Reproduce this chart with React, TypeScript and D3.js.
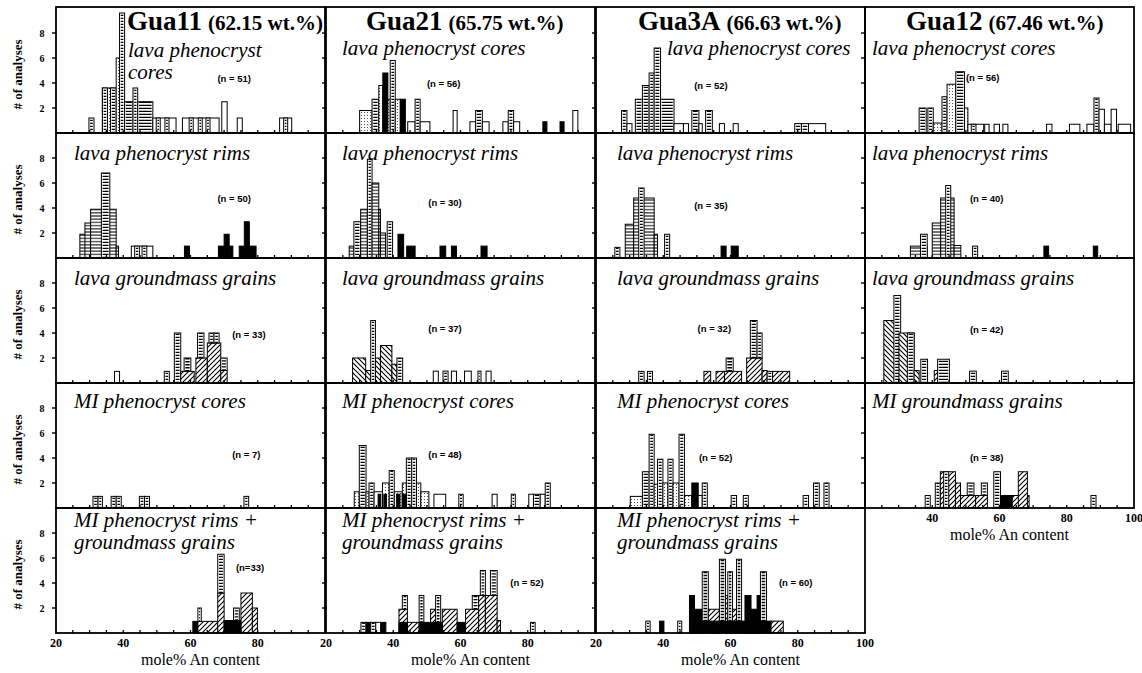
import React from 'react';
import * as d3 from 'd3';

// [kind, An from, An to, count top, count base]
type Bar = [string, number, number, number, number?];

// ---- row 1: lava phenocryst cores ----
const gua11Cores: Bar[] = [
  ['ladder', 29.8, 31.3, 1.2],
  ['stip', 33.8, 37.9, 3.6], ['ladder', 33.8, 35.3, 3.6], ['ladder', 36.2, 37.9, 3.6],
  ['stip', 37.9, 38.9, 6.0], ['ladder', 38.9, 40.4, 9.6],
  ['ladder', 40.4, 42.9, 2.5], ['ladder', 42.9, 44.3, 3.6], ['ladder', 44.3, 48.8, 2.5],
  ['open', 48.8, 55.7, 1.2], ['ladder', 49.8, 51.0, 1.2], ['ladder', 52.4, 53.6, 1.2],
  ['open', 57.6, 68.5, 1.2], ['ladder', 59.6, 60.8, 1.2], ['ladder', 62.3, 63.5, 1.2], ['ladder', 64.6, 65.8, 1.2],
  ['open', 69.3, 70.9, 2.5], ['open', 73.9, 75.4, 1.2],
  ['open', 86.5, 90.1, 1.2], ['ladder', 87.7, 88.9, 1.2],
];
const gua21Cores: Bar[] = [
  ['stip', 30.0, 33.7, 1.8], ['ladder', 33.7, 35.7, 2.7], ['stip', 35.7, 36.9, 3.8],
  ['solid', 36.9, 38.4, 4.8], ['stip', 38.4, 39.1, 2.7], ['ladder', 39.1, 40.6, 5.8],
  ['stip', 40.6, 42.1, 2.7], ['solid', 42.1, 43.6, 2.7], ['open', 44.3, 46.5, 0.9],
  ['ladder', 46.5, 48.0, 2.7], ['open', 48.0, 50.9, 0.9], ['open', 57.8, 59.0, 1.8],
  ['open', 62.8, 64.5, 0.9], ['ladder', 64.5, 66.5, 1.8], ['open', 66.5, 68.5, 0.9],
  ['open', 72.6, 74.2, 0.9], ['ladder', 74.2, 75.8, 1.8], ['open', 75.8, 77.6, 0.9],
  ['solid', 84.5, 85.7, 0.9], ['solid', 89.6, 90.8, 0.9], ['open', 93.4, 94.9, 1.8],
];
const gua3aCores: Bar[] = [
  ['ladder', 27.6, 29.2, 1.8], ['open', 29.2, 30.7, 0.75], ['ladder', 31.7, 33.8, 2.7],
  ['ladder', 33.8, 35.8, 3.8], ['ladder', 35.8, 37.3, 4.8], ['ladder', 37.3, 39.2, 6.8],
  ['ladder', 39.2, 43.2, 2.7], ['open', 43.2, 46.0, 0.75], ['open', 46.0, 47.5, 0.75],
  ['ladder', 48.5, 50.6, 1.8], ['open', 50.6, 51.6, 0.75], ['ladder', 52.6, 54.6, 1.8],
  ['open', 56.7, 58.2, 0.75], ['open', 60.8, 62.3, 0.75], ['ladder', 79.1, 81.1, 0.75],
  ['ladder', 81.1, 83.2, 0.75], ['open', 83.2, 88.3, 0.75],
];
const gua12Cores: Bar[] = [
  ['ladder', 36.1, 38.2, 2.0], ['ladder', 38.7, 40.3, 2.0], ['stip', 40.3, 42.9, 0.8],
  ['ladder', 42.9, 44.4, 2.9], ['stip', 44.4, 47.0, 3.9], ['ladder', 47.0, 49.6, 4.9],
  ['stip', 49.6, 50.6, 2.0], ['open', 50.6, 55.3, 0.7], ['ladder', 51.6, 53.0, 0.7],
  ['open', 55.6, 56.9, 0.7], ['open', 58.4, 60.0, 0.7], ['open', 61.0, 62.5, 0.7],
  ['open', 74.0, 75.6, 0.7], ['open', 80.8, 83.9, 0.7], ['open', 86.0, 88.1, 0.7],
  ['ladder', 88.1, 89.6, 2.8], ['open', 89.6, 91.2, 1.9], ['open', 91.2, 93.2, 0.7],
  ['open', 93.2, 94.8, 1.9], ['open', 95.3, 99.0, 0.7],
];

// ---- row 2: lava phenocryst rims ----
const gua11Rims: Bar[] = [
  ['hlines', 27.1, 30.3, 1.9], ['hlines', 28.6, 30.3, 2.8], ['hlines', 30.3, 37.9, 3.9],
  ['ladder', 33.5, 36.0, 6.8], ['hlines', 37.9, 38.6, 0.95],
  ['open', 42.4, 48.8, 0.95], ['ladder', 43.4, 44.8, 0.95], ['ladder', 45.6, 47.0, 0.95],
  ['solid', 58.2, 59.7, 0.95], ['solid', 68.3, 70.0, 0.95], ['solid', 70.0, 71.5, 1.9],
  ['solid', 71.5, 72.6, 0.95], ['solid', 74.5, 76.0, 0.95], ['solid', 76.0, 77.5, 2.9],
  ['solid', 77.5, 79.5, 0.95],
];
const gua21Rims: Bar[] = [
  ['hlines', 26.9, 28.3, 0.95], ['ladder', 28.3, 30.3, 2.9], ['hlines', 30.3, 32.3, 3.9],
  ['ladder', 32.3, 33.7, 7.9], ['hlines', 33.7, 35.7, 6.0], ['hlines', 35.7, 36.2, 3.9],
  ['hlines', 36.2, 37.7, 2.0], ['ladder', 38.2, 39.8, 2.9], ['solid', 41.4, 43.1, 1.9],
  ['solid', 44.0, 46.5, 0.95], ['solid', 53.9, 55.6, 0.95], ['solid', 57.3, 58.8, 0.95],
  ['solid', 66.1, 67.9, 0.95],
];
const gua3aRims: Bar[] = [
  ['ladder', 25.6, 27.1, 0.85], ['hlines', 28.7, 31.2, 2.7], ['hlines', 31.2, 37.3, 4.8],
  ['ladder', 32.7, 34.3, 5.6], ['hlines', 37.3, 38.3, 1.9], ['ladder', 40.4, 41.9, 1.9],
  ['solid', 57.2, 58.7, 0.95], ['solid', 60.2, 62.3, 0.95],
];
const gua12Rims: Bar[] = [
  ['hlines', 33.5, 38.5, 0.95], ['ladder', 36.5, 38.5, 1.9], ['hlines', 40.0, 42.5, 2.8],
  ['hlines', 42.5, 46.5, 4.8], ['ladder', 44.0, 45.5, 5.8], ['hlines', 46.5, 48.5, 1.0],
  ['ladder', 52.0, 53.5, 0.95], ['solid', 73.2, 74.6, 0.95], ['solid', 87.9, 89.2, 0.95],
];

// ---- row 3: lava groundmass grains ----
const gua11Gm: Bar[] = [
  ['open', 37.4, 38.9, 0.93], ['ladder', 52.2, 53.7, 0.93], ['ladder', 55.2, 57.1, 4.0],
  ['diag', 57.1, 61.1, 0.93], ['ladder', 58.1, 60.1, 2.0, 0.93],
  ['diag', 61.6, 65.0, 2.0], ['ladder', 62.1, 64.0, 4.0, 2.0],
  ['diag', 65.0, 69.0, 3.2], ['ladder', 65.5, 67.0, 4.0, 3.2], ['ladder', 67.0, 68.5, 4.0, 3.2],
  ['diag', 69.0, 70.9, 1.0], ['ladder', 69.0, 70.9, 2.0, 1.0],
];
const gua21Gm: Bar[] = [
  ['back', 27.9, 31.8, 2.0], ['back', 31.8, 33.3, 1.0], ['ladder', 33.3, 34.7, 5.0],
  ['back', 34.7, 36.2, 2.0], ['back', 36.2, 39.6, 3.0], ['back', 39.6, 41.1, 1.5],
  ['ladder', 41.1, 42.8, 2.0], ['open', 51.9, 53.4, 0.95], ['ladder', 54.8, 56.3, 0.95],
  ['open', 57.3, 58.8, 0.95], ['open', 61.2, 63.2, 0.95], ['ladder', 65.2, 66.1, 0.95],
  ['open', 67.6, 69.1, 0.95],
];
const gua3aGm: Bar[] = [
  ['ladder', 32.7, 34.3, 0.93], ['ladder', 35.3, 36.8, 0.93], ['diag', 52.1, 54.1, 0.93],
  ['diag', 55.7, 58.2, 0.93], ['diag', 58.2, 63.3, 0.93], ['ladder', 58.7, 60.8, 2.0, 0.93],
  ['diag', 64.8, 69.4, 2.0], ['ladder', 65.9, 67.9, 5.0, 2.0], ['ladder', 67.9, 69.4, 4.0, 2.0],
  ['diag', 69.4, 70.9, 1.0], ['ladder', 70.9, 72.5, 0.93], ['diag', 72.5, 77.6, 0.93],
];
const gua12Gm: Bar[] = [
  ['back', 25.6, 30.1, 5.0], ['ladder', 28.6, 30.6, 7.0], ['back', 30.1, 34.6, 4.0],
  ['ladder', 32.6, 34.6, 4.0], ['back', 34.6, 36.1, 1.0], ['ladder', 36.6, 38.6, 1.9],
  ['diag', 40.6, 42.6, 1.0], ['ladder', 41.6, 45.1, 1.9], ['ladder', 51.1, 53.1, 0.95],
  ['ladder', 60.6, 62.6, 0.95],
];

// ---- row 4: MI phenocryst cores / MI groundmass grains ----
const gua11MiCores: Bar[] = [
  ['ladder', 31.0, 32.5, 0.93], ['ladder', 32.5, 33.8, 0.93], ['ladder', 36.4, 37.9, 0.93],
  ['ladder', 37.9, 39.4, 0.93], ['ladder', 44.8, 46.3, 0.93], ['ladder', 46.3, 47.8, 0.93],
  ['ladder', 75.9, 77.3, 0.93],
];
const gua21MiCores: Bar[] = [
  ['stip', 28.4, 29.9, 1.3], ['ladder', 29.9, 31.9, 5.0], ['stip', 31.9, 32.8, 1.3],
  ['ladder', 32.8, 34.3, 2.0], ['open', 34.3, 36.8, 1.3], ['stip', 36.8, 38.8, 2.0],
  ['ladder', 38.8, 40.3, 3.0], ['stip', 40.3, 42.7, 1.3], ['stip', 42.7, 43.9, 2.0],
  ['ladder', 43.9, 45.5, 4.0], ['ladder', 45.5, 46.9, 4.0], ['stip', 46.9, 48.2, 2.0],
  ['stip', 48.2, 50.6, 1.3], ['solid', 35.5, 36.3, 1.1], ['solid', 37.2, 38.0, 1.1],
  ['solid', 41.0, 42.0, 1.1], ['solid', 42.7, 43.9, 1.1], ['open', 52.1, 55.6, 1.1],
  ['ladder', 59.5, 60.8, 1.1], ['open', 69.4, 70.9, 1.1], ['ladder', 75.1, 76.3, 1.1],
  ['open', 80.3, 81.7, 1.1], ['ladder', 81.7, 83.7, 1.1], ['open', 83.7, 85.2, 1.1],
  ['ladder', 85.2, 86.7, 2.0],
];
const gua3aMiCores: Bar[] = [
  ['stip', 30.2, 33.8, 0.93], ['ladder', 33.8, 35.8, 2.9], ['ladder', 35.8, 37.3, 5.9],
  ['stip', 37.3, 38.3, 1.9], ['ladder', 38.3, 39.9, 3.9], ['stip', 39.9, 41.4, 2.0],
  ['ladder', 41.4, 42.9, 3.9], ['stip', 42.9, 44.7, 2.0], ['ladder', 44.7, 46.3, 5.9],
  ['stip', 46.3, 48.5, 1.0], ['solid', 48.5, 50.4, 2.0], ['open', 50.4, 51.6, 1.0],
  ['ladder', 51.6, 53.1, 2.0], ['ladder', 60.2, 61.8, 1.0], ['ladder', 63.8, 65.3, 1.0],
  ['ladder', 81.6, 83.2, 1.0], ['ladder', 84.7, 86.4, 2.0], ['ladder', 87.8, 89.3, 2.0],
];
const gua12MiGm: Bar[] = [
  ['ladder', 37.9, 39.4, 1.0], ['ladder', 40.9, 42.4, 2.0], ['diag', 42.4, 46.9, 2.9],
  ['ladder', 43.4, 44.9, 2.9], ['diag', 46.9, 48.4, 2.0], ['diag', 48.4, 52.9, 1.0],
  ['ladder', 50.4, 52.4, 2.0, 1.0], ['diag', 52.9, 56.4, 1.0], ['ladder', 54.6, 56.4, 2.0, 1.0],
  ['ladder', 58.3, 60.3, 2.9], ['solid', 60.3, 63.8, 1.0], ['diag', 63.8, 68.8, 1.0],
  ['diag', 65.6, 68.3, 2.9], ['ladder', 87.2, 88.7, 1.0],
];

// ---- row 5: MI phenocryst rims + groundmass grains ----
const gua11MiRims: Bar[] = [
  ['solid', 60.7, 62.2, 0.93], ['diag', 62.2, 68.1, 0.93], ['ladder', 62.2, 63.2, 2.0, 0.93],
  ['diag', 68.1, 70.0, 3.2], ['ladder', 68.1, 70.0, 6.3, 3.2], ['ladder', 72.8, 74.5, 2.0, 1.0],
  ['diag', 75.0, 78.4, 3.2], ['diag', 78.4, 79.9, 2.0], ['solid', 70.0, 75.0, 1.0],
];
const gua21MiRims: Bar[] = [
  ['ladder', 30.4, 31.9, 0.85], ['solid', 31.9, 33.3, 0.85], ['ladder', 33.3, 34.8, 0.85],
  ['open', 34.8, 36.3, 0.85], ['solid', 36.3, 37.8, 0.85],
  ['diag', 41.7, 44.2, 1.9], ['ladder', 42.7, 44.2, 3.0, 1.9], ['diag', 44.2, 47.7, 0.85],
  ['ladder', 47.7, 49.1, 3.0, 0.85], ['diag', 51.1, 52.6, 1.9], ['ladder', 52.6, 54.1, 3.0, 0.85],
  ['diag', 54.6, 59.0, 1.9], ['diag', 61.5, 65.4, 1.9], ['ladder', 63.5, 65.4, 3.0, 1.9],
  ['diag', 65.4, 67.4, 3.0], ['ladder', 65.9, 67.4, 5.0, 3.0], ['diag', 67.4, 70.9, 3.0],
  ['ladder', 68.9, 70.9, 5.0, 3.0], ['diag', 70.9, 71.9, 1.0], ['ladder', 80.8, 82.2, 0.85],
  ['solid', 41.7, 44.2, 0.85], ['solid', 47.7, 54.6, 0.85], ['solid', 59.0, 61.5, 0.85],
];
const gua3aMiRims: Bar[] = [
  ['ladder', 34.8, 36.1, 0.95], ['solid', 38.9, 40.2, 0.95], ['ladder', 44.3, 45.5, 0.95],
  ['solid', 47.8, 49.3, 3.0], ['solid', 49.3, 51.6, 1.9], ['ladder', 51.6, 53.4, 4.9, 0.95],
  ['diag', 53.4, 56.7, 1.9], ['ladder', 56.7, 58.5, 5.9, 0.95], ['diag', 58.5, 59.2, 3.0],
  ['ladder', 59.2, 60.6, 4.9, 0.95], ['diag', 60.6, 61.8, 1.9], ['ladder', 61.8, 63.3, 5.9, 0.95],
  ['solid', 64.3, 66.1, 3.0], ['solid', 66.1, 67.9, 1.9], ['solid', 67.9, 68.9, 3.0],
  ['ladder', 68.9, 70.7, 4.9, 0.95], ['diag', 72.0, 75.7, 0.95], ['solid', 47.8, 72.0, 0.95],
];

const samples = ['Gua11', 'Gua21', 'Gua3A', 'Gua12'];
const silica = ['(62.15 wt.%)', '(65.75 wt.%)', '(66.63 wt.%)', '(67.46 wt.%)'];
const yTicks = [2, 4, 6, 8];
const xTickLabels = [20, 40, 60, 80, 100];

const COL_X = [56, 326, 596, 865];
const COL_W = 269;
const ROW_BASE = [133, 258, 383, 508, 633];
const ROW_H = 125;
const SUB_DX = [18, 16, 21, 7];
const SUB_DY = [48, 27, 27, 25, 19];
const LINE_GAP = 22;
const SERIF = '"Liberation Serif", "Times New Roman", serif';
const SANS = '"Liberation Sans", Arial, sans-serif';

type Panel = {
  col: number; row: number; bars: Bar[]; lines: string[]; n: string; nAt: [number, number];
  dx?: number; dy?: number;
};

const panels: Panel[] = [
  { col: 0, row: 0, bars: gua11Cores, lines: ['lava phenocryst', 'cores'], n: '(n = 51)', nAt: [68, 4.1], dx: 72, dy: 50 },
  { col: 1, row: 0, bars: gua21Cores, lines: ['lava phenocryst cores'], n: '(n = 56)', nAt: [50.0, 3.7] },
  { col: 2, row: 0, bars: gua3aCores, lines: ['lava phenocryst cores'], n: '(n = 52)', nAt: [49.2, 3.5], dx: 71 },
  { col: 3, row: 0, bars: gua12Cores, lines: ['lava phenocryst cores'], n: '(n = 56)', nAt: [50.0, 4.2] },
  { col: 0, row: 1, bars: gua11Rims, lines: ['lava phenocryst rims'], n: '(n = 50)', nAt: [68, 4.5] },
  { col: 1, row: 1, bars: gua21Rims, lines: ['lava phenocryst rims'], n: '(n = 30)', nAt: [50.4, 4.2] },
  { col: 2, row: 1, bars: gua3aRims, lines: ['lava phenocryst rims'], n: '(n = 35)', nAt: [49.2, 3.9] },
  { col: 3, row: 1, bars: gua12Rims, lines: ['lava phenocryst rims'], n: '(n = 40)', nAt: [51.2, 4.5] },
  { col: 0, row: 2, bars: gua11Gm, lines: ['lava groundmass grains'], n: '(n = 33)', nAt: [72.4, 3.6] },
  { col: 1, row: 2, bars: gua21Gm, lines: ['lava groundmass grains'], n: '(n = 37)', nAt: [50.4, 4.1] },
  { col: 2, row: 2, bars: gua3aGm, lines: ['lava groundmass grains'], n: '(n = 32)', nAt: [50.2, 4.1] },
  { col: 3, row: 2, bars: gua12Gm, lines: ['lava groundmass grains'], n: '(n = 42)', nAt: [51.2, 4.0] },
  { col: 0, row: 3, bars: gua11MiCores, lines: ['MI phenocryst cores'], n: '(n = 7)', nAt: [72.4, 4.0] },
  { col: 1, row: 3, bars: gua21MiCores, lines: ['MI phenocryst cores'], n: '(n = 48)', nAt: [50.4, 4.0] },
  { col: 2, row: 3, bars: gua3aMiCores, lines: ['MI phenocryst cores'], n: '(n = 52)', nAt: [50.6, 3.8] },
  { col: 3, row: 3, bars: gua12MiGm, lines: ['MI groundmass grains'], n: '(n = 38)', nAt: [51.2, 3.8] },
  { col: 0, row: 4, bars: gua11MiRims, lines: ['MI phenocryst rims +', 'groundmass grains'], n: '(n=33)', nAt: [73.5, 5.0] },
  { col: 1, row: 4, bars: gua21MiRims, lines: ['MI phenocryst rims +', 'groundmass grains'], n: '(n = 52)', nAt: [74.8, 3.8] },
  { col: 2, row: 4, bars: gua3aMiRims, lines: ['MI phenocryst rims +', 'groundmass grains'], n: '(n = 60)', nAt: [74.4, 3.8] },
];

const fills: Record<string, string> = {
  open: '#fff', ladder: '#fff', hlines: 'url(#hl)', solid: '#000',
  diag: 'url(#dg)', back: 'url(#bk)', stip: 'url(#st)',
};

const PanelView = ({ p }: { p: Panel }) => {
  const x0 = COL_X[p.col];
  const base = ROW_BASE[p.row];
  const x = d3.scaleLinear().domain([20, 100]).range([x0, x0 + COL_W]);
  const y = d3.scaleLinear().domain([0, 10]).range([base, base - ROW_H]);
  const top = p.row === 0 ? 7 : base - ROW_H;
  const tx = x0 + (p.dx ?? SUB_DX[p.col]);
  const ty = top + (p.dy ?? SUB_DY[p.row]);
  const xt = d3.range(25, 100, 5);
  return (
    <g>
      {p.bars.map((b, i) => {
        const [kind, a0, a1, hi, lo = 0] = b;
        const bx = x(a0), bw = x(a1) - x(a0);
        const by = y(hi), bh = y(lo) - y(hi);
        return (
          <g key={i}>
            <rect x={bx} y={by} width={bw} height={bh} fill={fills[kind]} stroke="#000" strokeWidth={1} />
            {kind === 'ladder' && (
              <line x1={bx + bw / 2} x2={bx + bw / 2} y1={y(lo)} y2={y(hi)} stroke="#000"
                strokeWidth={Math.max(0.8, bw - 2.4)} strokeDasharray="1.3 1.7" />
            )}
          </g>
        );
      })}
      <rect x={x0} y={top} width={COL_W} height={base - top} fill="none" stroke="#000" strokeWidth={1.8} />
      {yTicks.map(t => (
        <line key={t} x1={x0 - 4} x2={x0} y1={y(t)} y2={y(t)} stroke="#000" strokeWidth={1.4} />
      ))}
      {xt.map(t => (
        <line key={t} x1={x(t)} x2={x(t)} y1={base} y2={base - 3} stroke="#000" strokeWidth={1.3} />
      ))}
      {p.lines.map((s, i) => (
        <text key={i} x={tx} y={ty + i * LINE_GAP} fontFamily={SERIF} fontStyle="italic" fontSize={21}>{s}</text>
      ))}
      <text x={x(p.nAt[0])} y={y(p.nAt[1])} fontFamily={SANS} fontWeight="bold" fontSize={9.5}>{p.n}</text>
    </g>
  );
};

const App = () => {
  const titleX = [127, 366, 638, 906];
  const bottomRow = [4, 4, 4, 3];
  return (
    <svg width={1142} height={673} style={{ position: 'absolute', left: 0, top: 0, background: '#fff' }}>
      <defs>
        <pattern id="hl" patternUnits="userSpaceOnUse" width={4} height={3.2}>
          <rect width={4} height={3.2} fill="#fff" />
          <line x1={0} x2={4} y1={1.6} y2={1.6} stroke="#000" strokeWidth={1} />
        </pattern>
        <pattern id="dg" patternUnits="userSpaceOnUse" width={5} height={5}>
          <rect width={5} height={5} fill="#fff" />
          <path d="M0,5 L5,0 M-1,1 L1,-1 M4,6 L6,4" stroke="#000" strokeWidth={1.1} />
        </pattern>
        <pattern id="bk" patternUnits="userSpaceOnUse" width={5} height={5}>
          <rect width={5} height={5} fill="#fff" />
          <path d="M0,0 L5,5 M-1,4 L1,6 M4,-1 L6,1" stroke="#000" strokeWidth={1.1} />
        </pattern>
        <pattern id="st" patternUnits="userSpaceOnUse" width={3} height={3}>
          <rect width={3} height={3} fill="#fff" />
          <circle cx={1.5} cy={1.5} r={0.6} fill="#333" />
        </pattern>
      </defs>
      {panels.map((p, i) => <PanelView key={i} p={p} />)}
      {samples.map((s, i) => (
        <text key={s} x={titleX[i]} y={30} fontFamily={SERIF} fontWeight="bold">
          <tspan fontSize={27}>{s}</tspan>
          <tspan fontSize={21} dx={6}>{silica[i]}</tspan>
        </text>
      ))}
      {ROW_BASE.map((b, r) => {
        const y = d3.scaleLinear().domain([0, 10]).range([b, b - ROW_H]);
        const mid = b - ROW_H / 2 + 4;
        return (
          <g key={r}>
            {yTicks.map(t => (
              <text key={t} x={42} y={y(t) + 3.5} textAnchor="middle" fontFamily={SERIF} fontWeight="bold" fontSize={10}>{t}</text>
            ))}
            <text transform={`translate(22,${mid}) rotate(-90)`} textAnchor="middle" fontFamily={SERIF}
              fontWeight="bold" fontSize={13}># of analyses</text>
          </g>
        );
      })}
      {COL_X.map((x0, c) => {
        const x = d3.scaleLinear().domain([20, 100]).range([x0, x0 + COL_W]);
        const b = ROW_BASE[bottomRow[c]];
        const labels = c === 2 ? xTickLabels : c === 3 ? xTickLabels.slice(1) : xTickLabels.slice(0, 4);
        return (
          <g key={c}>
            {labels.map(t => (
              <text key={t} x={x(t)} y={b + 14} textAnchor="middle" fontFamily={SERIF} fontWeight="bold" fontSize={12}>{t}</text>
            ))}
            <text x={x(60) + 10} y={b + 32} textAnchor="middle" fontFamily={SERIF} fontSize={16}>mole% An content</text>
          </g>
        );
      })}
    </svg>
  );
};

export default App;
